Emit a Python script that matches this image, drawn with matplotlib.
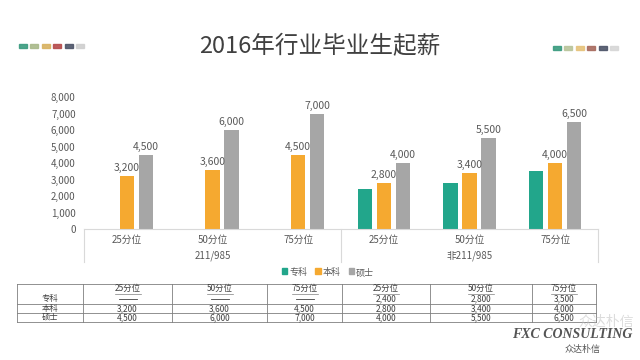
import matplotlib
matplotlib.use("Agg")
import matplotlib.pyplot as plt
from matplotlib.patches import Patch, Rectangle
from matplotlib.ticker import FuncFormatter
import numpy as np

plt.rcParams["font.family"] = ["Noto Sans CJK SC", "DejaVu Sans"]

# data
title = "2016年行业毕业生起薪"
categories = ["25分位", "50分位", "75分位", "25分位", "50分位", "75分位"]
groups = ["211/985", "非211/985"]
series_names = ["专科", "本科", "硕士"]
zhuanke = [None, None, None, 2400, 2800, 3500]
benke = [3200, 3600, 4500, 2800, 3400, 4000]
shuoshi = [4500, 6000, 7000, 4000, 5500, 6500]
yticks = [0, 1000, 2000, 3000, 4000, 5000, 6000, 7000, 8000]

colors = ["#22a68b", "#f5a930", "#a6a6a6"]
text_col = "#595959"
line_col = "#d9d9d9"

W, H = 640, 360
fig = plt.figure(figsize=(6.4, 3.6), dpi=100)
fig.patch.set_facecolor("white")

# title + decorative swatches
fig.text(0.5, 1 - 47 / H, title, ha="center", va="center", fontsize=17, color="#404040")
left_sw = ["#3a9b7f", "#a9b98a", "#d8b260", "#b54a4a", "#4d5468", "#cfcfcf"]
right_sw = ["#3a9b7f", "#b9c49a", "#e6c27a", "#a86a5e", "#4d5468", "#d6d6d6"]
for i, c in enumerate(left_sw):
    x0 = 19 + i * 11.4
    fig.patches.append(Rectangle((x0 / W, 1 - 48 / H), 8 / W, 4 / H,
                                 transform=fig.transFigure, color=c, alpha=0.9))
for i, c in enumerate(right_sw):
    x0 = 553 + i * 11.4
    fig.patches.append(Rectangle((x0 / W, 1 - 50 / H), 8 / W, 4 / H,
                                 transform=fig.transFigure, color=c, alpha=0.9))

# chart
ax = fig.add_axes([84 / W, 1 - 229 / H, (598 - 84) / W, (229 - 97) / H])
x = np.arange(len(categories))
bw, step = 0.17, 0.222
series = [zhuanke, benke, shuoshi]
for k, (vals, c) in enumerate(zip(series, colors)):
    xs = [xi + (k - 1) * step for xi, v in zip(x, vals) if v is not None]
    vs = [v for v in vals if v is not None]
    bars = ax.bar(xs, vs, width=bw, color=c, zorder=2)
    if k > 0:
        for b, v in zip(bars, vs):
            ax.annotate(f"{v:,}", (b.get_x() + b.get_width() / 2, v),
                        xytext=(0, 2), textcoords="offset points",
                        ha="center", va="bottom", fontsize=7.5, color=text_col)

ax.set_xlim(-0.5, len(categories) - 0.5)
ax.set_ylim(0, 8000)
ax.set_yticks(yticks)
ax.yaxis.set_major_formatter(FuncFormatter(lambda v, p: f"{int(v):,}"))
ax.set_xticks(x)
ax.set_xticklabels(categories)
ax.tick_params(axis="y", length=0, pad=6, labelsize=7, labelcolor=text_col)
ax.tick_params(axis="x", length=0, pad=4, labelsize=7, labelcolor=text_col)
for s in ["top", "right", "left"]:
    ax.spines[s].set_visible(False)
ax.spines["bottom"].set_color(line_col)
ax.patch.set_alpha(0)

trans = ax.get_xaxis_transform()
for xv in [-0.5, 2.5, 5.5]:
    ax.plot([xv, xv], [0, -0.25], transform=trans, color=line_col, lw=0.8, clip_on=False)
for gi, g in enumerate(groups):
    ax.text(gi * 3 + 1, -0.205, g, transform=trans, ha="center", va="center",
            fontsize=7, color=text_col)

handles = [Patch(facecolor=c, edgecolor=c) for c in colors]
fig.legend(handles, series_names, loc="center", bbox_to_anchor=(328 / W, 1 - 272 / H),
           ncol=3, frameon=False, fontsize=6.5, handlelength=0.6, handleheight=0.6,
           handletextpad=0.2, columnspacing=0.9, labelcolor=text_col)

# table underneath, drawn in pixel coordinates
tab = fig.add_axes([0, 0, 1, 1])
tab.set_xlim(0, W)
tab.set_ylim(H, 0)
tab.axis("off")
col_edges = [17, 83, 172, 267, 342, 430, 532, 596]
row_edges = [284, 294, 304, 313, 322]
tc = "#7f7f7f"
fs = 6
for xe in col_edges:
    tab.plot([xe, xe], [row_edges[0], row_edges[-1]], color=tc, lw=0.6)
for ye in [284, 304, 313, 322]:
    tab.plot([col_edges[0], col_edges[-1]], [ye, ye], color=tc, lw=0.6)

centers = [(a + b) / 2 for a, b in zip(col_edges[:-1], col_edges[1:])]
for cx, lab in zip(centers[1:], categories):
    tab.text(cx, 288.8, lab, ha="center", va="center", fontsize=fs, color="#404040")
    tab.plot([cx - 13, cx + 13], [293.6, 293.6], color=tc, lw=0.5)
for r, (name, vals) in enumerate(zip(series_names, series)):
    cy = (row_edges[r + 1] + row_edges[r + 2]) / 2
    tab.text(centers[0], cy, name, ha="center", va="center", fontsize=fs, color="#404040")
    for cx, v in zip(centers[1:], vals):
        if v is None:
            tab.plot([cx - 9, cx + 9], [cy, cy], color="#404040", lw=0.6)
        else:
            tab.text(cx, cy, f"{v:,}", ha="center", va="center", fontsize=fs, color="#404040")

# watermark
tab.text(606, 322, "众达朴信", ha="center", va="center", fontsize=10, color="#bbbbbb", alpha=0.5)
tab.text(572, 335, "FXC CONSULTING", ha="center", va="center", fontsize=10,
         family=["Liberation Serif", "DejaVu Serif"], style="italic", weight="bold", color="#555555")
tab.text(583, 349, "众达朴信", ha="center", va="center", fontsize=6.5, color="#555555")

fig.savefig("out.png", dpi=100)
